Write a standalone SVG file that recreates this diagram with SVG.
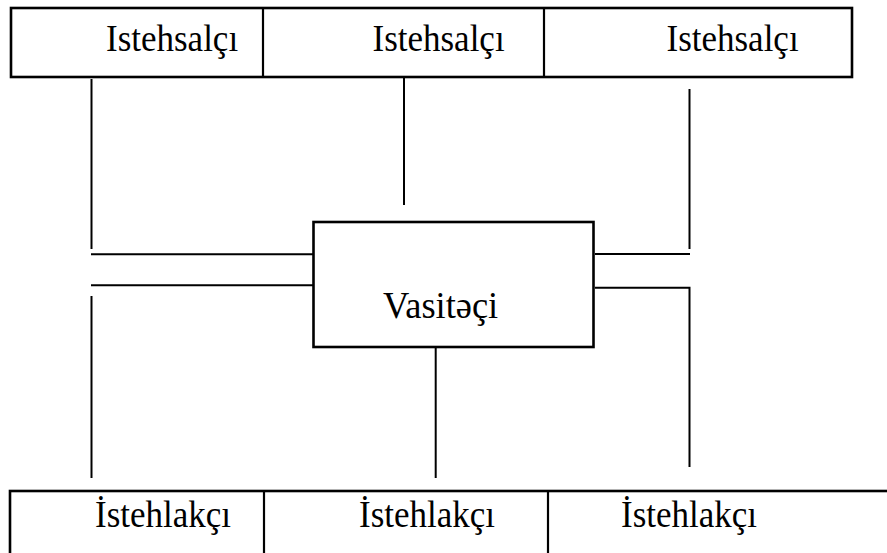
<svg xmlns="http://www.w3.org/2000/svg" width="887" height="553" viewBox="0 0 887 553">
  <style>
    .box { fill: #ffffff; stroke: #000000; stroke-width: 2.6; }
    .div { stroke: #000000; stroke-width: 2.2; fill: none; }
    .link { stroke: #000000; stroke-width: 2; fill: none; }
    .label { font-family: "Liberation Serif", "Times New Roman", serif; font-size: 35px; fill: #000000; }
  </style>
  <rect width="887" height="553" fill="#ffffff"/>

  <!-- connectors -->
  <g id="connectors">
    <line class="link" x1="91.5" y1="79" x2="91.5" y2="249"/>
    <line class="link" x1="404" y1="66" x2="404" y2="205"/>
    <line class="link" x1="689.5" y1="89" x2="689.5" y2="249"/>
    <line class="link" x1="91" y1="254.3" x2="313" y2="254.3"/>
    <line class="link" x1="91" y1="285.3" x2="313" y2="285.3"/>
    <line class="link" x1="595" y1="254" x2="690" y2="254"/>
    <polyline class="link" points="595,287.7 689.5,287.7 689.5,467"/>
    <line class="link" x1="91.5" y1="296" x2="91.5" y2="478"/>
    <line class="link" x1="435.7" y1="348" x2="435.7" y2="478"/>
  </g>

  <!-- producers -->
  <g id="producers">
    <rect class="box" x="11" y="8" width="841" height="69"/>
    <line class="div" x1="263" y1="8" x2="263" y2="77"/>
    <line class="div" x1="544" y1="8" x2="544" y2="77"/>
    <text class="label" transform="translate(106,50.5) scale(1,1.08)">Istehsalçı</text>
    <text class="label" transform="translate(372.5,50.5) scale(1,1.08)">Istehsalçı</text>
    <text class="label" transform="translate(666.5,50.5) scale(1,1.08)">Istehsalçı</text>
  </g>

  <!-- intermediary -->
  <g id="intermediary">
    <rect class="box" x="313.5" y="222" width="280" height="125"/>
    <text class="label" transform="translate(383,318) scale(1.04,1.08)">Vasitəçi</text>
  </g>

  <!-- consumers -->
  <g id="consumers">
    <rect class="box" x="10" y="491" width="890" height="80"/>
    <line class="div" x1="264" y1="491" x2="264" y2="553"/>
    <line class="div" x1="548" y1="491" x2="548" y2="553"/>
    <text class="label" transform="translate(95,527) scale(1,1.08)">İstehlakçı</text>
    <text class="label" transform="translate(359,527) scale(1,1.08)">İstehlakçı</text>
    <text class="label" transform="translate(621,527) scale(1,1.08)">İstehlakçı</text>
  </g>
</svg>
